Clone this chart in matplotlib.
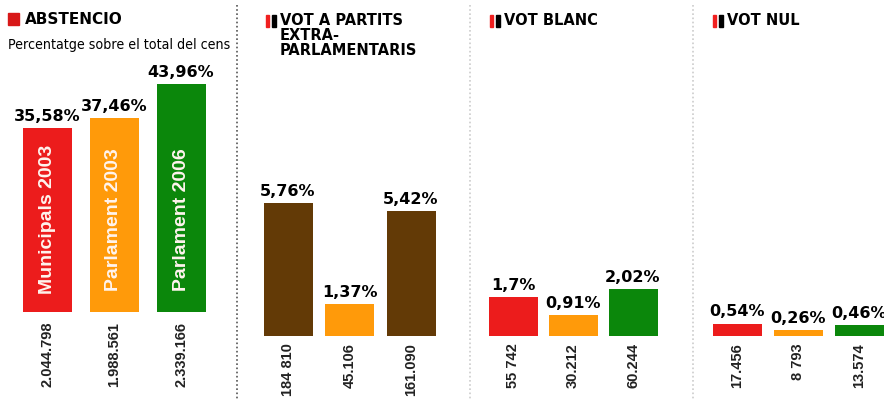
import matplotlib
matplotlib.use('Agg')
from matplotlib import pyplot as plt
from matplotlib.patches import Rectangle
from matplotlib.lines import Line2D

# data
abst_labels = ['Municipals 2003', 'Parlament 2003', 'Parlament 2006']
abst_pct = [35.58, 37.46, 43.96]
abst_votes = ['2.044.798', '1.988.561', '2.339.166']

extra_pct = [5.76, 1.37, 5.42]
extra_votes = ['184 810', '45.106', '161.090']

blanc_pct = [1.7, 0.91, 2.02]
blanc_votes = ['55 742', '30.212', '60.244']

nul_pct = [0.54, 0.26, 0.46]
nul_votes = ['17.456', '8 793', '13.574']

red = '#ec1c1c'
orange = '#ff9a0a'
green = '#0b870b'
brown = '#633a06'

W, H = 884, 405
fig = plt.figure(figsize=(W / 100, H / 100), dpi=100)
fig.patch.set_facecolor('white')

narrow = ['Liberation Sans', 'DejaVu Sans']


def fmt(v):
    s = '1,7' if v == 1.7 else ('%.2f' % v).replace('.', ',')
    return s + '%'


def panel(left, right, top, bottom, c0, step, width, ymax):
    ax = fig.add_axes([left / W, 1 - bottom / H, (right - left) / W, (bottom - top) / H])
    ax.set_xlim(-c0 / step, (right - left - c0) / step)
    ax.set_ylim(0, ymax)
    ax.axis('off')
    return ax, width / step


def draw(ax, bw, vals, colors, votes, gap):
    x = range(len(vals))
    ax.bar(x, vals, width=bw, color=colors)
    for i, v in enumerate(vals):
        ax.annotate(fmt(v), (i, v), xytext=(0, 3), textcoords='offset points',
                    ha='center', va='bottom', fontsize=11.5, fontweight='bold')
        ax.annotate(votes[i], (i, 0), xycoords=ax.get_xaxis_transform(),
                    xytext=(0, -gap), textcoords='offset points',
                    ha='center', va='top', rotation=90, fontsize=10.5,
                    fontweight='bold', family=narrow, color='#222222')


# panel 1: abstencio
ax1, bw1 = panel(0, 232, 50, 312, 47, 67, 49, 262 / 5.18)
draw(ax1, bw1, abst_pct, [red, orange, green], abst_votes, 7)
for i, lab in enumerate(abst_labels):
    ax1.text(i, 17.8, lab, rotation=90, ha='center', va='center',
             color='#fff4ee', fontsize=14, fontweight='semibold',
             family=['Liberation Sans', 'DejaVu Sans'])

# panel 2: vot a partits extra-parlamentaris
ax2, bw2 = panel(240, 465, 50, 336, 48, 61.5, 49, 286 / 23.1)
draw(ax2, bw2, extra_pct, [brown, orange, brown], extra_votes, 5)

# panel 3: vot blanc
ax3, bw3 = panel(472, 690, 50, 336, 41, 60, 49, 286 / 23.1)
draw(ax3, bw3, blanc_pct, [red, orange, green], blanc_votes, 5)

# panel 4: vot nul
ax4, bw4 = panel(695, 884, 50, 336, 42, 61, 49, 286 / 23.1)
draw(ax4, bw4, nul_pct, [red, orange, green], nul_votes, 5)

# titles
fig.patches.append(Rectangle((8 / W, 1 - 25 / H), 11 / W, 12 / H,
                             transform=fig.transFigure, color='#d81818'))
fig.text(25 / W, 1 - 19 / H, 'ABSTENCIO', fontsize=11, fontweight='heavy', va='center')
fig.text(8 / W, 1 - 45 / H, 'Percentatge sobre el total del cens', fontsize=10.2,
         family=['DejaVu Sans'], fontstretch='condensed', va='center')

for x0, title in [(266, 'VOT A PARTITS\nEXTRA-\nPARLAMENTARIS'),
                  (490, 'VOT BLANC'), (713, 'VOT NUL')]:
    fig.patches.append(Rectangle((x0 / W, 1 - 27 / H), 3 / W, 12 / H,
                                 transform=fig.transFigure, color='#f02020'))
    fig.patches.append(Rectangle(((x0 + 6) / W, 1 - 27 / H), 4 / W, 12 / H,
                                 transform=fig.transFigure, color='black'))
    fig.text((x0 + 14) / W, 1 - 13 / H, title, fontsize=10.5, fontweight='heavy',
             va='top', linespacing=1.0)

# dotted dividers
for xd, col in [(237, '#555555'), (470, '#cccccc'), (693, '#cccccc')]:
    fig.lines.append(Line2D([xd / W, xd / W], [1 - 5 / H, 1 - 400 / H],
                            transform=fig.transFigure, color=col, lw=1.2,
                            linestyle=(0, (1, 1.5))))

fig.savefig('out.png', dpi=100, facecolor='white')
